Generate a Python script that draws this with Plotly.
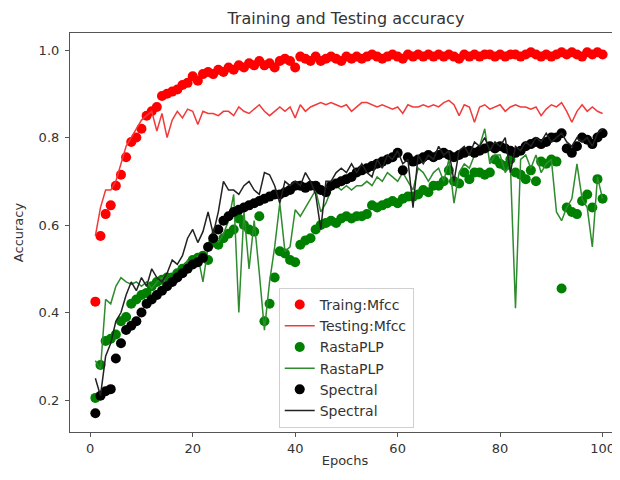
import plotly.graph_objects as go

epochs = list(range(1, 101))

train_mfcc = [0.425, 0.575, 0.625, 0.645, 0.69, 0.715, 0.755, 0.79, 0.80, 0.82,
              0.85, 0.86, 0.87, 0.895, 0.90, 0.905, 0.91, 0.92, 0.925, 0.94,
              0.93, 0.945, 0.95, 0.945, 0.955, 0.95, 0.96, 0.955, 0.965, 0.96,
              0.97, 0.965, 0.975, 0.965, 0.97, 0.96, 0.975, 0.98, 0.975, 0.96,
              0.985, 0.98, 0.975, 0.985, 0.975, 0.98, 0.985, 0.98, 0.975, 0.985,
              0.98, 0.985, 0.98, 0.985, 0.99, 0.985, 0.98, 0.985, 0.99, 0.985,
              0.98, 0.99, 0.985, 0.99, 0.985, 0.99, 0.985, 0.99, 0.985, 0.99,
              0.985, 0.98, 0.99, 0.985, 0.99, 0.985, 0.99, 0.99, 0.985, 0.99,
              0.985, 0.99, 0.99, 0.985, 0.99, 0.995, 0.99, 0.985, 0.99, 0.985,
              0.99, 0.995, 0.99, 0.995, 0.99, 0.985, 0.995, 0.99, 0.995, 0.99]

test_mfcc = [0.575, 0.64, 0.68, 0.68, 0.70, 0.74, 0.78, 0.80, 0.82, 0.84,
             0.85, 0.86, 0.815, 0.855, 0.80, 0.84, 0.86, 0.845, 0.865, 0.86,
             0.83, 0.86, 0.855, 0.855, 0.85, 0.86, 0.86, 0.85, 0.87, 0.86,
             0.855, 0.865, 0.875, 0.86, 0.85, 0.86, 0.87, 0.86, 0.87, 0.845,
             0.875, 0.86, 0.87, 0.875, 0.88, 0.875, 0.88, 0.875, 0.87, 0.875,
             0.86, 0.87, 0.88, 0.88, 0.875, 0.87, 0.875, 0.87, 0.865, 0.87,
             0.855, 0.875, 0.87, 0.87, 0.875, 0.87, 0.875, 0.87, 0.88, 0.885,
             0.875, 0.85, 0.875, 0.87, 0.835, 0.87, 0.875, 0.865, 0.87, 0.875,
             0.86, 0.87, 0.875, 0.87, 0.87, 0.865, 0.87, 0.85, 0.865, 0.875,
             0.87, 0.88, 0.86, 0.835, 0.86, 0.875, 0.86, 0.87, 0.86, 0.855]

rasta_dots = [0.205, 0.28, 0.335, 0.34, 0.35, 0.38, 0.39, 0.42, 0.43, 0.44,
              0.445, 0.46, 0.47, 0.475, 0.48, 0.48, 0.49, 0.50, 0.505, 0.52,
              0.525, 0.53, 0.52, 0.56, 0.555, 0.57, 0.58, 0.59, 0.615, 0.60,
              0.59, 0.585, 0.62, 0.38, 0.42, 0.48, 0.54, 0.535, 0.52, 0.515,
              0.555, 0.565, 0.57, 0.59, 0.60, 0.605, 0.61, 0.605, 0.615, 0.62,
              0.615, 0.62, 0.62, 0.625, 0.645, 0.64, 0.645, 0.65, 0.655, 0.65,
              0.66, 0.665, 0.665, 0.67, 0.68, 0.675, 0.69, 0.69, 0.70, 0.725,
              0.70, 0.695, 0.72, 0.705, 0.72, 0.72, 0.715, 0.72, 0.75, 0.74,
              0.735, 0.75, 0.72, 0.715, 0.705, 0.725, 0.70, 0.745, 0.74, 0.75,
              0.745, 0.455, 0.64, 0.63, 0.625, 0.655, 0.67, 0.64, 0.705, 0.66]

rasta_line = [0.29, 0.27, 0.43, 0.42, 0.46, 0.48, 0.47, 0.465, 0.47, 0.46,
              0.47, 0.455, 0.47, 0.48, 0.465, 0.48, 0.47, 0.50, 0.52, 0.51,
              0.53, 0.47, 0.55, 0.59, 0.56, 0.58, 0.61, 0.67, 0.40, 0.63,
              0.50, 0.61, 0.49, 0.36, 0.47, 0.55, 0.65, 0.54, 0.55, 0.635,
              0.62, 0.64, 0.66, 0.68, 0.63, 0.65, 0.68, 0.69, 0.68, 0.69,
              0.68, 0.69, 0.69, 0.70, 0.69, 0.71, 0.70, 0.72, 0.71, 0.70,
              0.72, 0.70, 0.68, 0.73, 0.72, 0.70, 0.72, 0.73, 0.70, 0.75,
              0.65, 0.72, 0.74, 0.73, 0.76, 0.78, 0.82, 0.74, 0.76, 0.76,
              0.72, 0.74, 0.41, 0.75, 0.76, 0.73, 0.76, 0.72, 0.74, 0.75,
              0.63, 0.61, 0.64, 0.66, 0.74, 0.66, 0.64, 0.55, 0.71, 0.66]

spectral_dots = [0.17, 0.21, 0.22, 0.225, 0.295, 0.33, 0.36, 0.37, 0.38, 0.40,
                 0.42, 0.43, 0.44, 0.45, 0.46, 0.47, 0.48, 0.49, 0.50, 0.51,
                 0.515, 0.525, 0.55, 0.57, 0.59, 0.61, 0.62, 0.63, 0.635, 0.64,
                 0.645, 0.65, 0.655, 0.66, 0.665, 0.67, 0.67, 0.675, 0.68, 0.69,
                 0.69, 0.685, 0.69, 0.69, 0.68, 0.675, 0.69, 0.695, 0.70, 0.705,
                 0.71, 0.72, 0.725, 0.73, 0.735, 0.74, 0.745, 0.75, 0.755, 0.765,
                 0.725, 0.755, 0.745, 0.75, 0.755, 0.76, 0.755, 0.76, 0.765, 0.76,
                 0.755, 0.76, 0.765, 0.77, 0.765, 0.77, 0.775, 0.78, 0.775, 0.78,
                 0.775, 0.77, 0.765, 0.77, 0.78, 0.785, 0.79, 0.785, 0.79, 0.80,
                 0.80, 0.81, 0.775, 0.765, 0.78, 0.80, 0.795, 0.785, 0.80, 0.81]

spectral_line = [0.25, 0.21, 0.30, 0.33, 0.38, 0.40, 0.44, 0.47, 0.45, 0.48,
                 0.46, 0.50, 0.48, 0.47, 0.49, 0.52, 0.51, 0.53, 0.57, 0.59,
                 0.56, 0.585, 0.63, 0.58, 0.63, 0.70, 0.68, 0.68, 0.67, 0.69,
                 0.70, 0.68, 0.67, 0.72, 0.715, 0.69, 0.65, 0.70, 0.69, 0.70,
                 0.69, 0.72, 0.70, 0.67, 0.59, 0.70, 0.70, 0.72, 0.73, 0.72,
                 0.74, 0.72, 0.74, 0.72, 0.71, 0.75, 0.73, 0.76, 0.75, 0.77,
                 0.74, 0.75, 0.64, 0.76, 0.74, 0.76, 0.75, 0.78, 0.76, 0.77,
                 0.70, 0.77, 0.78, 0.76, 0.79, 0.78, 0.80, 0.77, 0.79, 0.78,
                 0.80, 0.72, 0.78, 0.77, 0.79, 0.78, 0.80, 0.79, 0.81, 0.79,
                 0.80, 0.81, 0.79, 0.78, 0.80, 0.79, 0.80, 0.78, 0.81, 0.82]

x_ticks = [0, 20, 40, 60, 80, 100]
y_ticks = [0.2, 0.4, 0.6, 0.8, 1.0]
y_tick_text = ["0.2", "0.4", "0.6", "0.8", "1.0"]

FONT = "DejaVu Sans"
MS = 10

fig = go.Figure()
fig.add_trace(go.Scatter(x=epochs, y=train_mfcc, mode="markers", name="Traing:Mfcc",
                         marker=dict(color="#ff0000", size=MS)))
fig.add_trace(go.Scatter(x=epochs, y=test_mfcc, mode="lines", name="Testing:Mfcc",
                         line=dict(color="#f23a3a", width=1.5)))
fig.add_trace(go.Scatter(x=epochs, y=rasta_dots, mode="markers", name="RastaPLP",
                         marker=dict(color="#008000", size=MS)))
fig.add_trace(go.Scatter(x=epochs, y=rasta_line, mode="lines", name="RastaPLP",
                         line=dict(color="#2e8b2e", width=1.5)))
fig.add_trace(go.Scatter(x=epochs, y=spectral_dots, mode="markers", name="Spectral",
                         marker=dict(color="#000000", size=MS)))
fig.add_trace(go.Scatter(x=epochs, y=spectral_line, mode="lines", name="Spectral",
                         line=dict(color="#222222", width=1.5)))

fig.update_layout(
    width=620, height=480,
    margin=dict(l=62, r=8, t=25, b=56, autoexpand=False),
    paper_bgcolor="white", plot_bgcolor="white",
    font=dict(family=FONT, size=13, color="#333333"),
    title=dict(text="Training and Testing accuracy", x=0.545, xref="container",
               xanchor="center", y=0.99, yref="container", yanchor="top",
               pad=dict(t=0, b=0),
               font=dict(size=16, color="#333333")),
    showlegend=True,
    legend=dict(x=0.3795, y=0.361, xanchor="left", yanchor="top",
                bgcolor="white", bordercolor="#d0d0d0", borderwidth=1,
                font=dict(size=14, color="#333333"), tracegroupgap=0),
    xaxis=dict(range=[-3.95, 103.4], tickvals=x_ticks, showgrid=False, zeroline=False,
               showline=True, linecolor="#555555", linewidth=1.2, mirror=True,
               ticks="outside", ticklen=4, tickcolor="#555555", automargin=False,
               title=dict(text="Epochs", standoff=1, font=dict(size=13))),
    yaxis=dict(range=[0.127, 1.039], tickvals=y_ticks, ticktext=y_tick_text,
               showgrid=False, zeroline=False,
               showline=True, linecolor="#555555", linewidth=1.2, mirror=False,
               ticks="outside", ticklen=4, tickcolor="#555555", automargin=False,
               ticklabelstandoff=3,
               title=dict(text="Accuracy", standoff=12, font=dict(size=13))),
)

fig.write_html("out.html")
